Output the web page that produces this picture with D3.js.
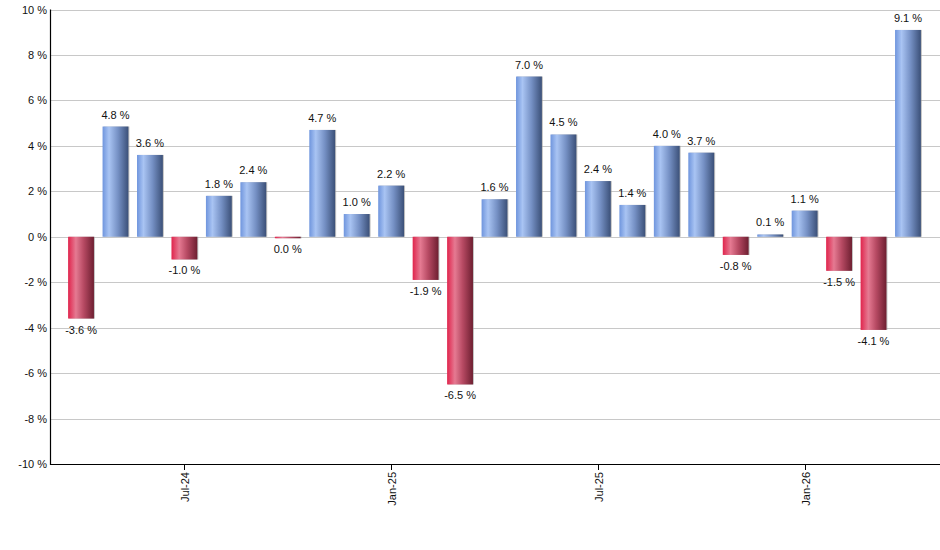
<!DOCTYPE html>
<html><head><meta charset="utf-8">
<script src="https://cdn.jsdelivr.net/npm/d3@7"></script>
<style>body{margin:0;background:#fff}svg{display:block}text{font-family:Arial,"Liberation Sans",sans-serif}</style>
</head><body>
<svg id="c" width="940" height="550"></svg>
<script>
const months = ["Apr-24","May-24","Jun-24","Jul-24","Aug-24","Sep-24","Oct-24","Nov-24","Dec-24","Jan-25","Feb-25","Mar-25","Apr-25","May-25","Jun-25","Jul-25","Aug-25","Sep-25","Oct-25","Nov-25","Dec-25","Jan-26","Feb-26","Mar-26","Apr-26"];
const values = [-3.6,4.85,3.6,-1.0,1.8,2.4,-0.05,4.7,1.0,2.25,-1.9,-6.5,1.65,7.05,4.5,2.45,1.4,4.0,3.7,-0.8,0.1,1.15,-1.5,-4.1,9.1];
const labels = ["-3.6 %","4.8 %","3.6 %","-1.0 %","1.8 %","2.4 %","0.0 %","4.7 %","1.0 %","2.2 %","-1.9 %","-6.5 %","1.6 %","7.0 %","4.5 %","2.4 %","1.4 %","4.0 %","3.7 %","-0.8 %","0.1 %","1.1 %","-1.5 %","-4.1 %","9.1 %"];
const xTickMonths = ["Jul-24","Jan-25","Jul-25","Jan-26"];
const yTicks = [-10,-8,-6,-4,-2,0,2,4,6,8,10];

const svg = d3.select("#c");
const L = 50, R = 940, T = 9.5, B = 464;
const y = d3.scaleLinear().domain([-10,10]).range([B,T]);
const x = d3.scaleBand().domain(months).range([63.8,925.2]).paddingInner(0.25).paddingOuter(0.125);

const defs = svg.append("defs");
function grad(id, stops){
  const g = defs.append("linearGradient").attr("id",id).attr("x1","0%").attr("x2","100%").attr("y1","0%").attr("y2","0%");
  stops.forEach(s=>g.append("stop").attr("offset",s[0]).attr("stop-color",s[1]));
}
grad("gb",[["0%","#6f95dd"],["25%","#a9c4f3"],["60%","#7590c4"],["100%","#3b5078"]]);
grad("gr",[["0%","#e0244c"],["30%","#e57a92"],["60%","#b74a63"],["100%","#6e1f31"]]);

// grid
svg.append("g").selectAll("line").data(yTicks).join("line")
  .attr("x1",L).attr("x2",R).attr("y1",d=>Math.round(y(d))+0.5).attr("y2",d=>Math.round(y(d))+0.5)
  .attr("stroke","#c8c8c8").attr("stroke-width",1);

// bars
const bars = svg.append("g");
months.forEach((m,i)=>{
  const v = values[i];
  const y0 = y(Math.max(0,v)), y1 = y(Math.min(0,v));
  const h = Math.max(1.5, y1-y0);
  bars.append("rect").attr("x",x(m)+1).attr("y",y0).attr("width",x.bandwidth()).attr("height",h)
    .attr("fill","#9a9a9a").attr("opacity",0.6);
  bars.append("rect").attr("x",x(m)).attr("y",y0).attr("width",x.bandwidth()).attr("height",h)
    .attr("fill", v>=0 ? "url(#gb)" : "url(#gr)");
  svg.append("text").attr("x",x(m)+x.bandwidth()/2)
    .attr("y", v>=0 ? y0-8 : y0+h+15)
    .attr("text-anchor","middle").attr("font-size",11).attr("fill","#111").text(labels[i]);
});

// axes
svg.append("line").attr("x1",L+0.5).attr("x2",L+0.5).attr("y1",T).attr("y2",B+1).attr("stroke","#000").attr("stroke-width",1.2);
svg.append("line").attr("x1",L).attr("x2",R).attr("y1",B+0.5).attr("y2",B+0.5).attr("stroke","#000").attr("stroke-width",1.2);

svg.append("g").selectAll("text").data(yTicks).join("text")
  .attr("x",L-3).attr("y",d=>y(d)+4).attr("text-anchor","end").attr("font-size",11).attr("fill","#111")
  .text(d=>d+" %");

xTickMonths.forEach(m=>{
  const cx = Math.round(x(m)+x.bandwidth()/2)+0.5;
  svg.append("line").attr("x1",cx).attr("x2",cx).attr("y1",B).attr("y2",B+6).attr("stroke","#000");
  svg.append("text").attr("transform",`translate(${cx+4},${B+8}) rotate(-90)`)
    .attr("text-anchor","end").attr("font-size",11).attr("fill","#111").text(m);
});
</script>
</body></html>
